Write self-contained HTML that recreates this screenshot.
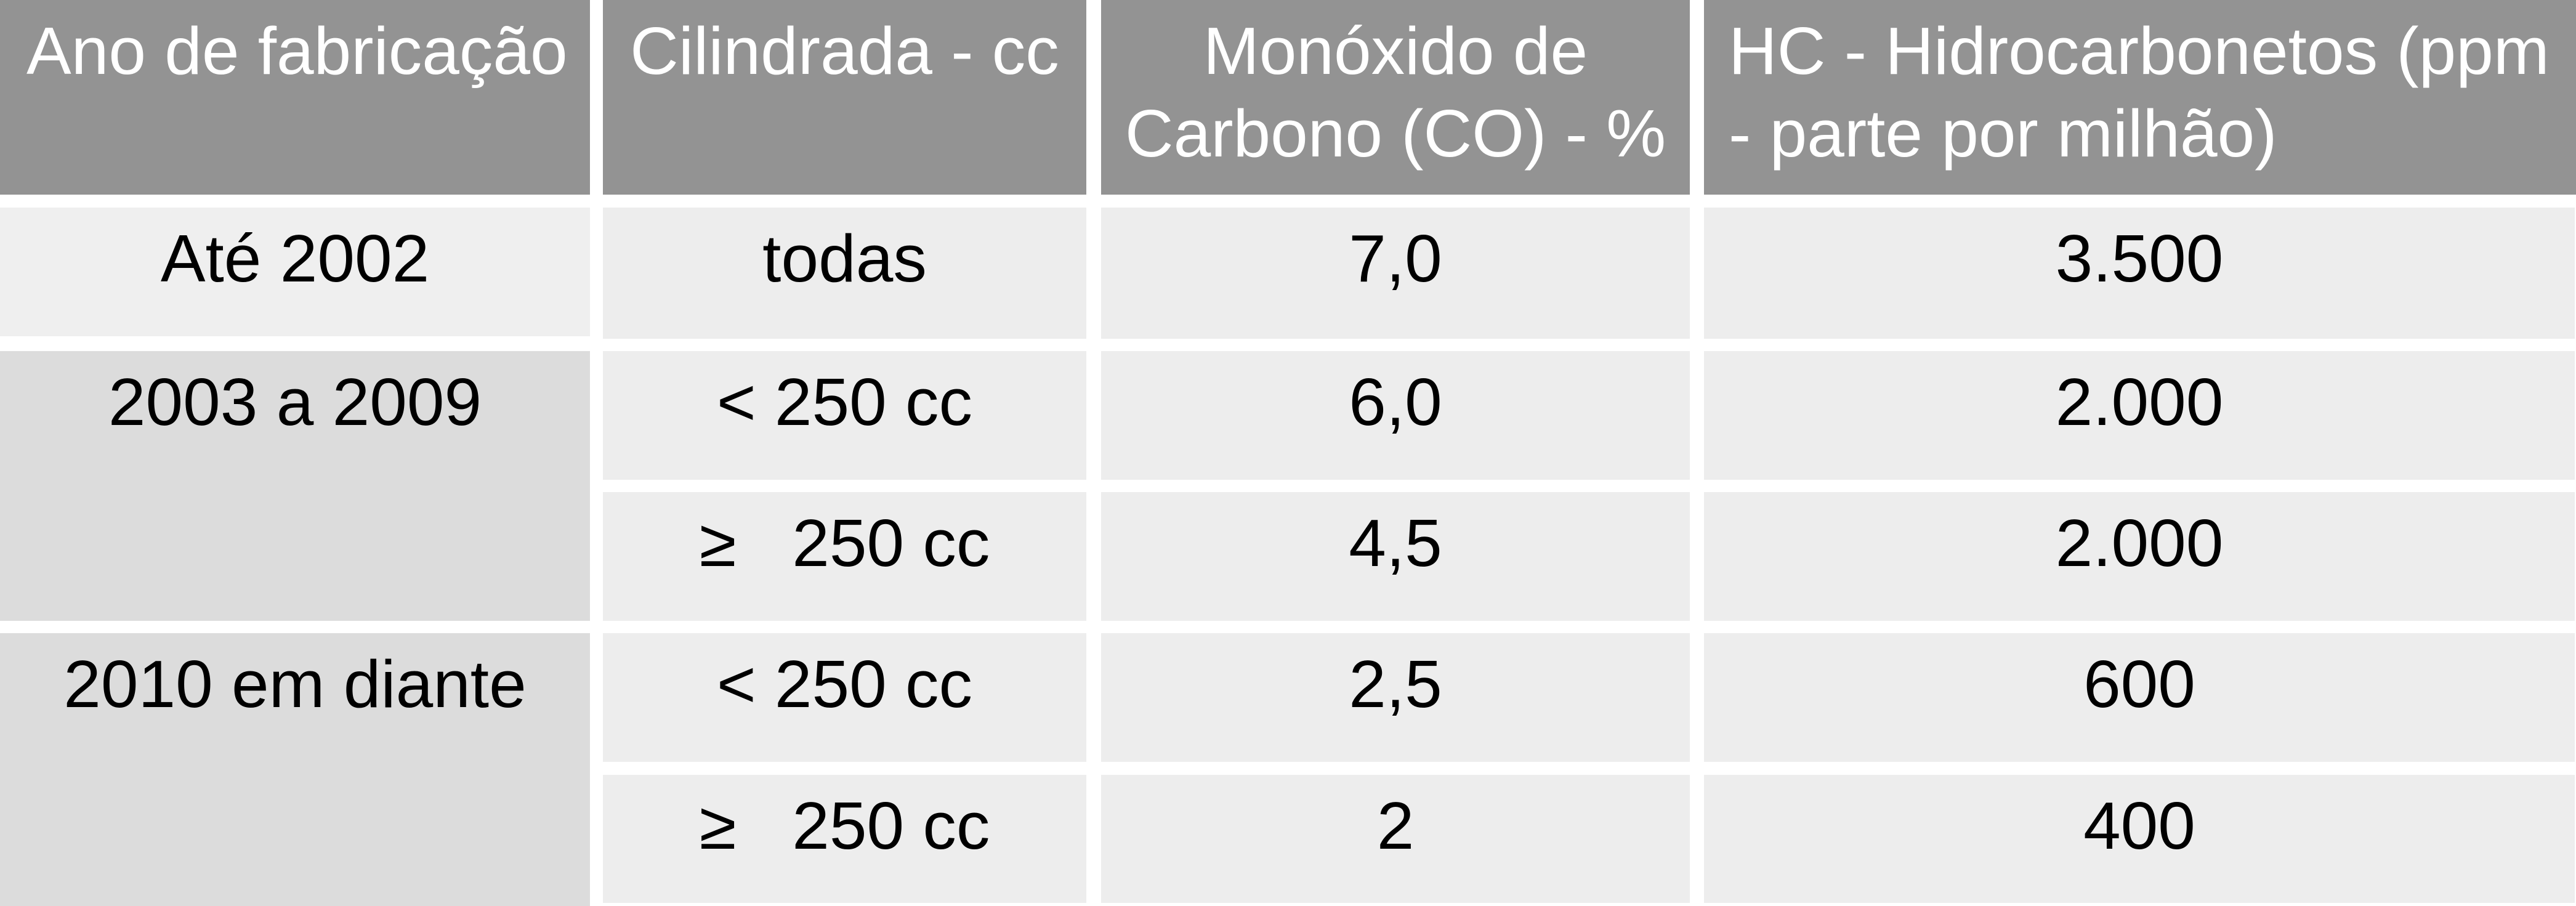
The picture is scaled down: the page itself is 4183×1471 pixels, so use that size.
<!DOCTYPE html>
<html><head><meta charset="utf-8"><style>
html,body{margin:0;padding:0;background:#fff;}
body{width:4183px;height:1471px;position:relative;overflow:hidden;font-family:"Liberation Sans",Arial,sans-serif;}
.c{position:absolute;box-sizing:border-box;font-size:109px;line-height:134px;padding-top:16px;text-align:center;color:#000;white-space:nowrap;}
.h{background:#939393;color:#fff;}
.r{background:#ededed;}
.l{background:#efefef;}
.d{background:#dcdcdc;}
</style></head><body>
<div class="c h" style="left:0;top:0;width:958px;height:316px;text-align:left;padding-left:43px;">Ano de fabricação</div>
<div class="c h" style="left:979px;top:0;width:785px;height:316px;">Cilindrada - cc</div>
<div class="c h" style="left:1788px;top:0;width:956px;height:316px;">Monóxido de<br>Carbono (CO) - %</div>
<div class="c h" style="left:2767px;top:0;width:1416px;height:316px;text-align:left;padding-left:40px;">HC - Hidrocarbonetos (ppm<br>- parte por milhão)</div>

<div class="c l" style="left:0;top:337px;width:958px;height:209px;">Até 2002</div>
<div class="c r" style="left:979px;top:337px;width:785px;height:213px;">todas</div>
<div class="c r" style="left:1788px;top:337px;width:956px;height:213px;">7,0</div>
<div class="c r" style="left:2767px;top:337px;width:1414px;height:213px;">3.500</div>

<div class="c d" style="left:0;top:570px;width:958px;height:438px;">2003 a 2009</div>
<div class="c r" style="left:979px;top:570px;width:785px;height:209px;">&lt; 250 cc</div>
<div class="c r" style="left:1788px;top:570px;width:956px;height:209px;">6,0</div>
<div class="c r" style="left:2767px;top:570px;width:1414px;height:209px;">2.000</div>

<div class="c r" style="left:979px;top:799px;width:785px;height:209px;">≥&nbsp;&nbsp;&nbsp;250 cc</div>
<div class="c r" style="left:1788px;top:799px;width:956px;height:209px;">4,5</div>
<div class="c r" style="left:2767px;top:799px;width:1414px;height:209px;">2.000</div>

<div class="c d" style="left:0;top:1028px;width:958px;height:443px;">2010 em diante</div>
<div class="c r" style="left:979px;top:1028px;width:785px;height:209px;">&lt; 250 cc</div>
<div class="c r" style="left:1788px;top:1028px;width:956px;height:209px;">2,5</div>
<div class="c r" style="left:2767px;top:1028px;width:1414px;height:209px;">600</div>

<div class="c r" style="left:979px;top:1258px;width:785px;height:208px;">≥&nbsp;&nbsp;&nbsp;250 cc</div>
<div class="c r" style="left:1788px;top:1258px;width:956px;height:208px;">2</div>
<div class="c r" style="left:2767px;top:1258px;width:1414px;height:208px;">400</div>
</body></html>
